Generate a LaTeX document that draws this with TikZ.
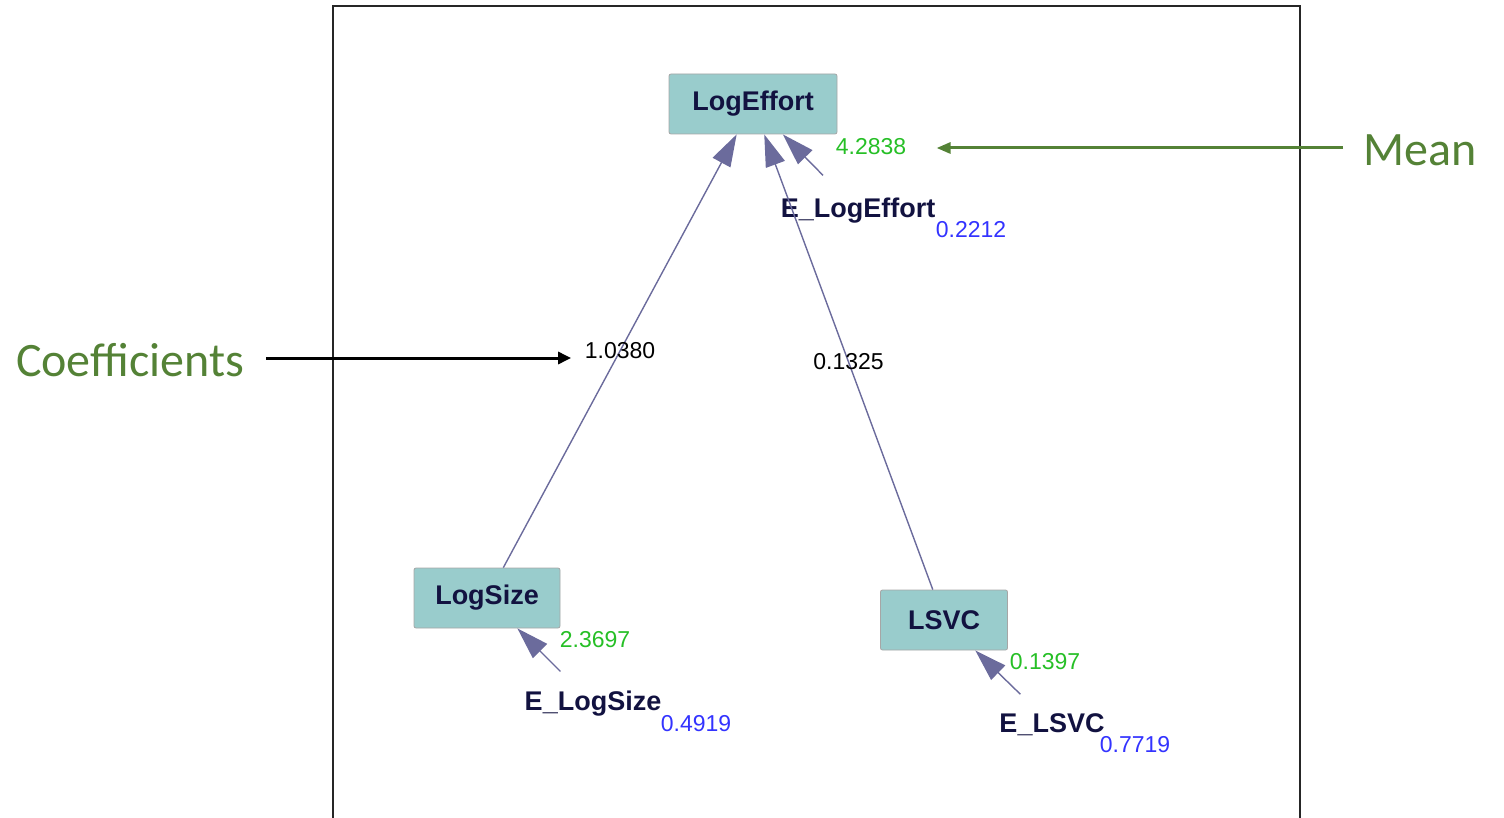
\documentclass[tikz,border=0pt]{standalone}
\usepackage{fontspec}
\setmainfont{Liberation Sans}
\newfontfamily\notefont{Carlito}
\usetikzlibrary{arrows.meta,calc}
\definecolor{boxfill}{rgb}{.6,.8,.8}
\definecolor{varname}{rgb}{.07,.07,.25}
\definecolor{pathcol}{rgb}{.42,.42,.61}
\definecolor{meancol}{rgb}{.15,.75,.15}
\definecolor{varcol}{rgb}{.2,.2,1}
\definecolor{notecol}{rgb}{.33,.51,.21}

\begin{document}
\begin{tikzpicture}[x=0.5pt,y=-0.5pt,% one unit is one pixel of the model window
      every node/.style={inner sep=2pt},
      varbox/.style={rectangle,draw=gray!70,fill=boxfill,rounded corners=1pt,
        minimum height=30pt,text=varname,
        font=\bfseries\fontsize{13.5}{14}\selectfont},
      errname/.style={text=varname,font=\bfseries\fontsize{13.5}{14}\selectfont},
      meanval/.style={text=meancol,font=\fontsize{11.5}{12}\selectfont},
      varval/.style={text=varcol,font=\fontsize{11.5}{12}\selectfont},
      coefval/.style={text=black,font=\fontsize{11.5}{12}\selectfont},
      note/.style={text=notecol,font=\notefont\fontsize{24}{26}\selectfont},
      every edge/.style={draw=pathcol,line width=0.7pt,
        -{Triangle[length=16pt,width=10pt]}}
    ]
    \useasboundingbox (0,0) rectangle (1504,818);
    % frame of the model window
    \draw[line width=1pt,black!85] (333,840) -- (333,6) -- (1300,6) -- (1300,840);

    % observed variables
    \node[varbox,minimum width=84pt](LE) at (753,104) {LogEffort};
    \node[varbox,minimum width=73pt](LS) at (487,598) {LogSize};
    \node[varbox,minimum width=63.5pt](LV) at (944,620) {LSVC};

    % error terms
    \node[errname](E1) at (858,211) {E\_LogEffort};
    \node[errname](E2) at (593,704) {E\_LogSize};
    \node[errname](E3) at (1052,725) {E\_LSVC};

    % means and variances
    \node[meanval](M1) at (871,147) {4.2838};
    \node[meanval](M2) at (595,640) {2.3697};
    \node[meanval](M3) at (1045,662) {0.1397};
    \node[varval](V1) at (971,230) {0.2212};
    \node[varval](V2) at (696,724) {0.4919};
    \node[varval](V3) at (1135,745) {0.7719};

    \path
    (LS)edge node[coefval](C1){1.0380} (LE)
    (LV)edge node[coefval](C2){0.1325} (LE)
    (E1)edge [shorten <=13pt] (LE)
    (E2)edge [shorten <=11pt] (LS)
    (E3)edge [shorten <=11pt] (LV)
    ;

    % annotations
    \node[note](Coef) at (130,360) {Coefficients};
    \node[note](Mean) at (1420,150) {Mean};
    \draw[line width=1.5pt,-{Triangle[length=6.5pt,width=6pt]},shorten <=9pt,shorten >=4.5pt]
      ($(Coef.east)+(0,-2)$) -- ($(Coef.east -| C1.west)+(0,-2)$);
    \draw[line width=1.5pt,notecol,-{Triangle[length=7pt,width=5.5pt]},shorten <=8pt,shorten >=13pt]
      ($(Mean.west)+(0,-2)$) -- ($(Mean.west -| M1.east)+(0,-2)$);
  \end{tikzpicture}
\end{document}
